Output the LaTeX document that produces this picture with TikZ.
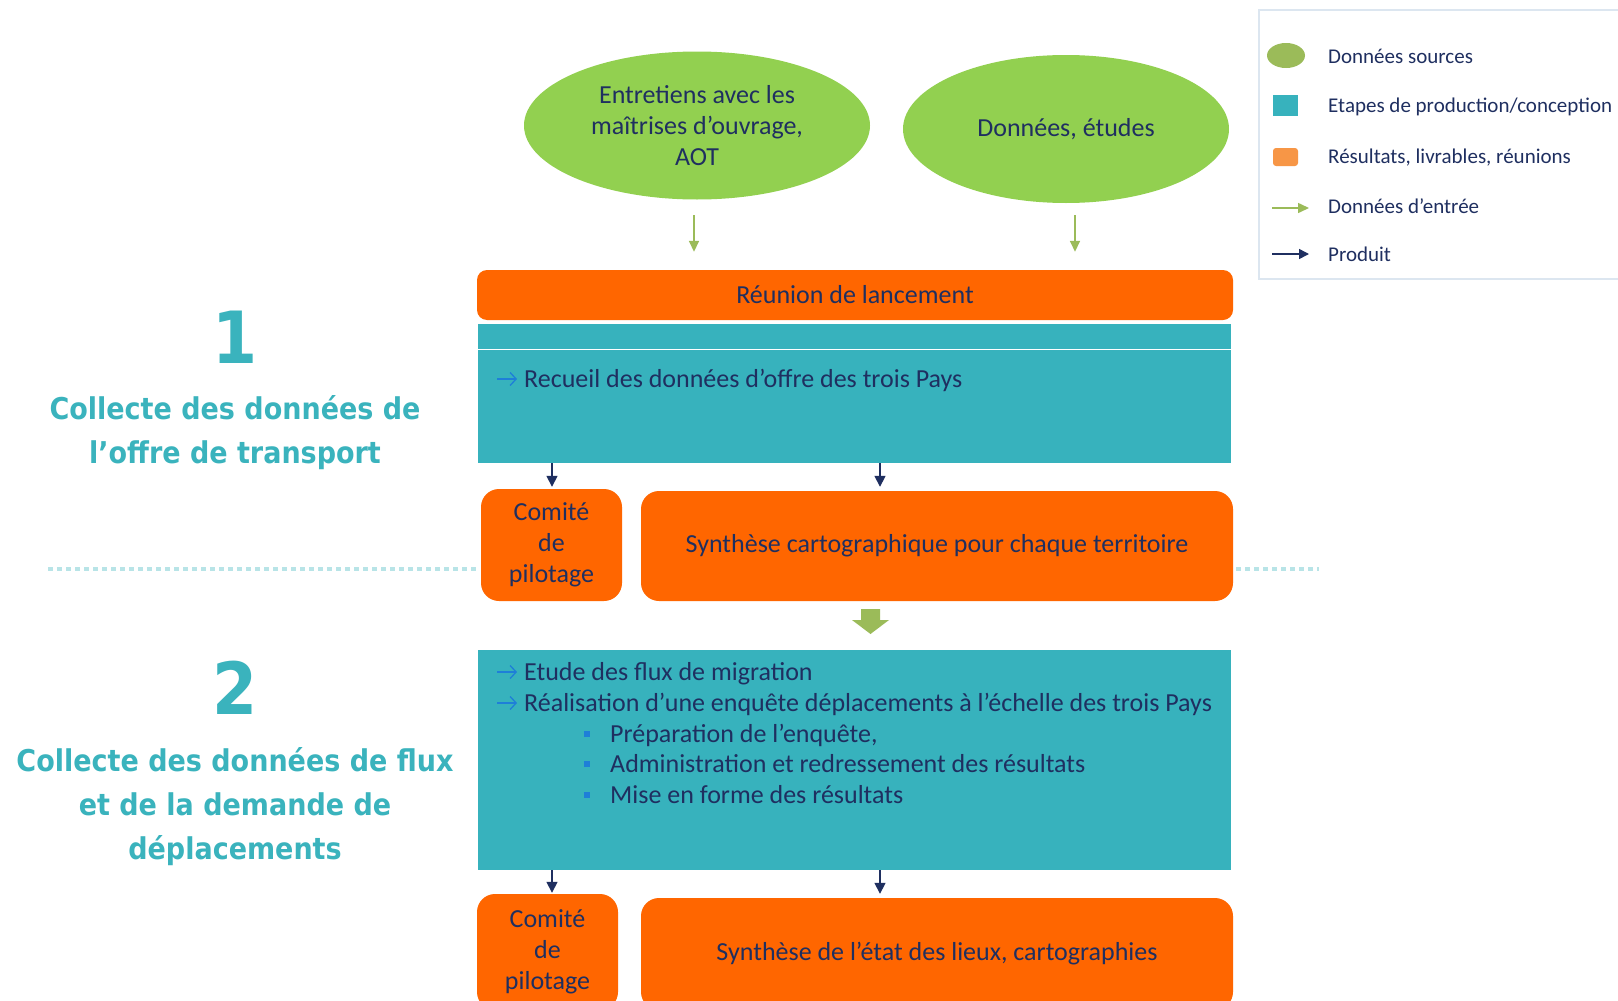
\documentclass[tikz,border=0pt]{standalone}
\usepackage{fontspec}
\usepackage{graphicx}
\setmainfont{Carlito}
\newfontfamily\dvs{DejaVu Sans}
\usetikzlibrary{shapes.geometric,arrows.meta,calc}
\definecolor{srcgreen}{HTML}{92D050}
\definecolor{resorange}{HTML}{FF6600}
\definecolor{stepteal}{HTML}{37B2BD}
\definecolor{navy}{HTML}{1F2F60}
\definecolor{inarrow}{HTML}{9BBB59}
\definecolor{ttlteal}{HTML}{3AB3BD}
\definecolor{lightblue}{HTML}{1E7FD8}
\definecolor{dotteal}{HTML}{B8E4E7}
\definecolor{legframe}{HTML}{DCE6F0}
\definecolor{legorange}{HTML}{F79646}
\definecolor{leggreen}{HTML}{9BBB59}
\newcommand\mybody{\fontsize{26}{31}\selectfont}
\newcommand\mylegend{\fontsize{21}{24}\selectfont}
\newcommand\myttl{\dvs\bfseries\fontsize{30}{44}\selectfont}
\newcommand\mybig{\dvs\bfseries\fontsize{72}{80}\selectfont}
\newcommand\sq[1]{\scalebox{0.9}[1]{#1}}
\newcommand\bul{\makebox[26pt][l]{\textcolor{lightblue}{\raisebox{5pt}{\rule{6pt}{6pt}}}}}
\begin{document}
\begin{tikzpicture}[x=1pt,y=1pt,
  srcnode/.style={ellipse, fill=srcgreen, inner sep=0pt, text=navy, align=center, font=\mybody},
  stepbox/.style={rectangle, fill=stepteal, inner sep=0pt},
  resbox/.style={rectangle, rounded corners=18pt, fill=resorange, inner sep=0pt, text=navy, align=center, font=\mybody},
  bodytxt/.style={inner sep=0pt, text=navy, font=\mybody, anchor=base west},
  legtxt/.style={inner sep=0pt, text=navy, font=\mylegend, anchor=base west},
  inarr/.style={draw=inarrow, line width=1.6pt, -{Triangle[length=11pt,width=10pt]}},
  prodarr/.style={draw=navy, line width=1.6pt, -{Triangle[length=11pt,width=11pt]}},
  bularr/.style={draw=lightblue, line width=1.3pt, -{Straight Barb[length=6pt,width=13pt]}},
  sectitle/.style={text=ttlteal, align=center, font=\myttl, inner sep=0pt},
  sepline/.style={draw=dotteal, line width=4pt, dash pattern=on 4.5pt off 4.5pt}
]
\useasboundingbox (0,0) rectangle (1618,-1001);
\fill[white] (0,0) rectangle (1618,-1001);

% legend
\draw[legframe, line width=1.5pt] (1259,-10) rectangle (1650,-279);
\node[ellipse, fill=leggreen, minimum width=38pt, minimum height=25pt, inner sep=0pt] (lg1) at (1286,-55.5) {};
\node[fill=stepteal, minimum width=25pt, minimum height=21pt, inner sep=0pt] (lg2) at (1285.5,-105.5) {};
\node[fill=legorange, rounded corners=3pt, minimum width=25pt, minimum height=18pt, inner sep=0pt] (lg3) at (1285.5,-157) {};
\coordinate (lg4a) at (1272,-208); \coordinate (lg4b) at (1309,-208);
\coordinate (lg5a) at (1272,-254); \coordinate (lg5b) at (1309,-254);
\draw[inarr, line width=1.5pt] (lg4a) -- (lg4b);
\draw[prodarr, line width=1.5pt, -{Triangle[length=10pt,width=10pt]}] (lg5a) -- (lg5b);
\node[legtxt] (lt1) at (1328,-63) {Données sources};
\node[legtxt] (lt2) at (1328,-112) {Etapes de production/conception};
\node[legtxt] (lt3) at (1328,-163) {Résultats, livrables, réunions};
\node[legtxt] (lt4) at (1328,-213) {Données d’entrée};
\node[legtxt] (lt5) at (1328,-261) {Produit};

% separators
\draw[sepline] (48,-569) -- (478,-569);
\draw[sepline] (1236,-569) -- (1319,-569);

% sources
\node[srcnode, minimum width=346pt, minimum height=148pt] (e1) at (697,-125.5) {Entretiens avec les\\maîtrises d’ouvrage,\\AOT};
\node[srcnode, minimum width=326pt, minimum height=148pt] (e2) at (1066,-129) {Données, études};

% section 1
\node[resbox, rounded corners=10pt, minimum width=756pt, minimum height=50pt] (reu) at (855,-295) {Réunion de lancement};
\node[stepbox, minimum width=753pt, minimum height=139pt] (b1) at (854.5,-393.5) {};
\draw[white, line width=1pt] ($(b1.north west)+(0,-26)$) -- ($(b1.north east)+(0,-26)$);
\node[bodytxt] (t1) at (524,-387) {Recueil des données d’offre des trois Pays};
\draw[bularr] ($(t1.base west)+(-27,8)$) -- ($(t1.base west)+(-7,8)$);
\node[resbox, minimum width=141pt, minimum height=112pt] (c1) at (551.5,-545) {Comité\\de\\pilotage};
\node[resbox, minimum width=592pt, minimum height=110pt] (s1) at (937,-546) {Synthèse cartographique pour chaque territoire};

% section 2
\node[stepbox, minimum width=753pt, minimum height=220pt] (b2) at (854.5,-760) {};
\node[bodytxt] (t2a) at (524,-680) {Etude des flux de migration};
\node[bodytxt] (t2b) at (524,-711) {Réalisation d’une enquête déplacements à l’échelle des trois Pays};
\draw[bularr] ($(t2a.base west)+(-27,8)$) -- ($(t2a.base west)+(-7,8)$);
\draw[bularr] ($(t2b.base west)+(-27,8)$) -- ($(t2b.base west)+(-7,8)$);
\node[bodytxt] (t2c) at (584,-742) {\bul Préparation de l’enquête,};
\node[bodytxt] (t2d) at (584,-772) {\bul Administration et redressement des résultats};
\node[bodytxt] (t2e) at (584,-803) {\bul Mise en forme des résultats};
\node[resbox, minimum width=141pt, minimum height=116pt] (c2) at (547.5,-952) {Comité\\de\\pilotage};
\node[resbox, minimum width=592pt, minimum height=112pt] (s2) at (937,-954) {Synthèse de l’état des lieux, cartographies};

% input arrows
\coordinate (ga1) at (694,-199);
\coordinate (ga2) at (1075,-203);
\draw[inarr, shorten <=16pt, shorten >=18pt] (ga1) -- (ga1 |- reu.north);
\draw[inarr, shorten <=12pt, shorten >=18pt] (ga2) -- (ga2 |- reu.north);

% product arrows
\coordinate (pa) at (552,0);
\coordinate (pb) at (880,0);
\draw[prodarr, shorten >=2pt] (b1.south -| pa) -- (c1.north -| pa);
\draw[prodarr, shorten >=4pt] (b1.south -| pb) -- (s1.north -| pb);
\draw[prodarr, shorten >=1pt] (b2.south -| pa) -- (c2.north -| pa);
\draw[prodarr, shorten >=4pt] (b2.south -| pb) -- (s2.north -| pb);

% big green arrow
\fill[inarrow] (861,-609) -- (880,-609) -- (880,-620) -- (889,-620) -- (870.5,-634) -- (852,-620) -- (861,-620) -- cycle;

% titles
\node[sectitle, font=\mybig] (n1) at (235,-337) {\sq{1}};
\node[sectitle] (tt1) at (235,-433) {\sq{Collecte des données de}\\\sq{l’offre de transport}};
\node[sectitle, font=\mybig] (n2) at (235,-688) {\sq{2}};
\node[sectitle] (tt2) at (235,-807) {\sq{Collecte des données de flux}\\\sq{et de la demande de}\\\sq{déplacements}};
\end{tikzpicture}
\end{document}
